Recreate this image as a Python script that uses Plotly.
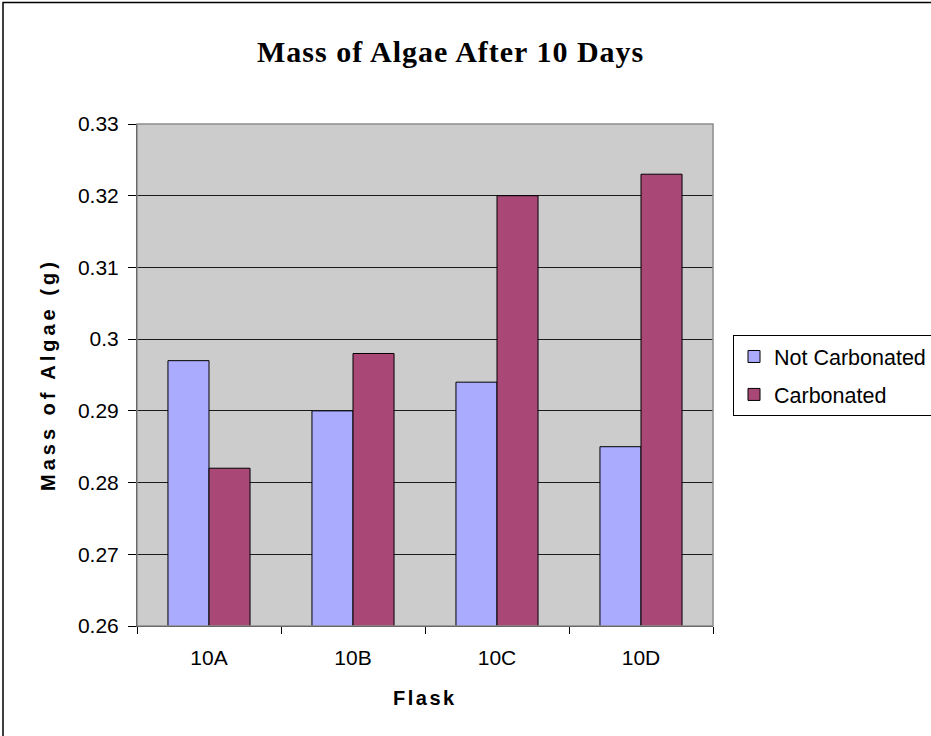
import plotly.graph_objects as go

# Flask labels and algae mass (g) after 10 days
flasks = ["10A", "10B", "10C", "10D"]
not_carbonated = [0.297, 0.290, 0.294, 0.285]
carbonated = [0.282, 0.298, 0.320, 0.323]

# y-axis ticks
y_ticks = [0.26, 0.27, 0.28, 0.29, 0.30, 0.31, 0.32, 0.33]
y_tick_text = ["0.26", "0.27", "0.28", "0.29", "0.3", "0.31", "0.32", "0.33"]

W, H = 931, 736
L, R, T, B = 137, 218, 124, 110
pw, ph = W - L - R, H - T - B


def px_x(x):
    return (x - L) / pw


def px_y(y):
    return (H - B - y) / ph


def spaced(text, px):
    return f'<span style="letter-spacing:{px}px">{text}</span>'


fig = go.Figure()
fig.add_trace(go.Bar(
    x=flasks, y=not_carbonated, name="Not Carbonated", legendgroup="nc",
    marker=dict(color="#AAAAFF", line=dict(color="#000000", width=1)),
))
fig.add_trace(go.Bar(
    x=flasks, y=carbonated, name="Carbonated", legendgroup="c",
    marker=dict(color="#A94876", line=dict(color="#000000", width=1)),
))

fig.update_layout(
    width=W, height=H,
    margin=dict(l=L, r=R, t=T, b=B, autoexpand=False),
    paper_bgcolor="#FFFFFF",
    plot_bgcolor="#CCCCCC",
    barmode="group",
    bargap=0.43,
    bargroupgap=0,
    font=dict(family="Liberation Sans, Arial, sans-serif", size=21, color="#000000"),
    showlegend=True,
    legend=dict(
        x=px_x(733), y=px_y(335), xanchor="left", yanchor="top",
        bgcolor="#FFFFFF", bordercolor="#000000", borderwidth=1,
        font=dict(size=21.5), itemwidth=30, tracegroupgap=7,
    ),
    xaxis=dict(
        type="category", showgrid=False, showline=True, linecolor="#000000", linewidth=1,
        ticks="outside", tickson="boundaries", ticklen=7, tickcolor="#000000",
        ticklabelstandoff=13, automargin=False,
    ),
    yaxis=dict(
        range=[0.26, 0.33], tickvals=y_ticks, ticktext=y_tick_text,
        showgrid=True, gridcolor="#1A1A1A", gridwidth=1,
        showline=True, linecolor="#000000", linewidth=1,
        ticks="outside", ticklen=8, tickcolor="#000000",
        ticklabelstandoff=5, zeroline=False, automargin=False,
    ),
    shapes=[
        # plot area frame
        dict(type="rect", xref="paper", yref="paper", x0=0, x1=1, y0=0, y1=1,
             line=dict(color="#8C8C8C", width=1.5), layer="above"),
        # chart border
        dict(type="rect", xref="paper", yref="paper",
             x0=px_x(3), x1=px_x(940), y0=px_y(745), y1=px_y(2.5),
             line=dict(color="#000000", width=1.5), layer="above"),
    ],
    annotations=[
        dict(text="<b>" + spaced("Mass of Algae After 10 Days", 1) + "</b>",
             xref="paper", yref="paper",
             x=px_x(450), y=px_y(52), xanchor="center", yanchor="middle", showarrow=False,
             font=dict(family="Liberation Serif, Times New Roman, serif", size=30)),
        dict(text="<b>" + spaced("Flask", 2.5) + "</b>", xref="paper", yref="paper",
             x=0.5, y=px_y(698), xanchor="center", yanchor="middle", showarrow=False,
             font=dict(size=20)),
        dict(text="<b>" + spaced("Mass of Algae (g)", 4) + "</b>", xref="paper", yref="paper",
             x=px_x(48), y=0.5, xanchor="center", yanchor="middle", showarrow=False,
             textangle=-90, font=dict(size=20)),
    ],
)

fig.write_html("out.html")
